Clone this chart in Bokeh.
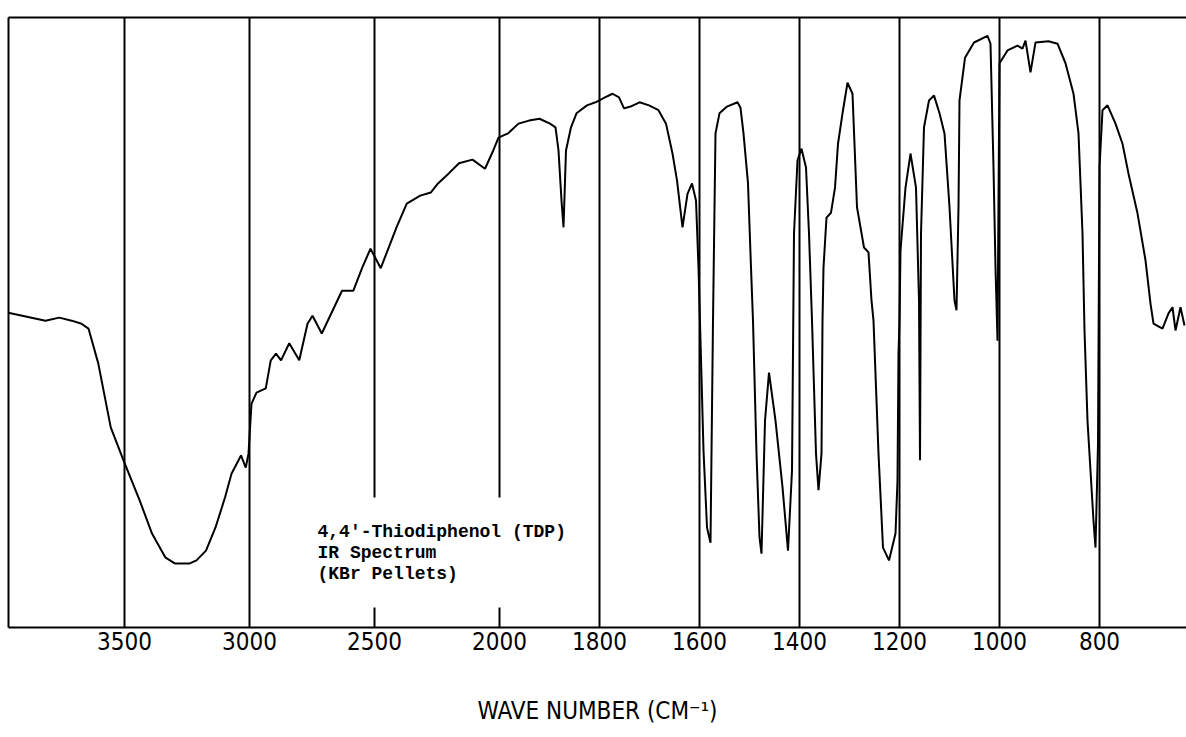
from bokeh.plotting import figure
from bokeh.models import (ColumnDataSource, FixedTicker, LinearAxis, Range1d, Label)
from bokeh.embed import file_html
from bokeh.resources import INLINE

# ---- data (wavenumber in cm-1, % transmittance) ----
WAVENUMBER = [3965, 3816, 3761, 3711, 3672, 3644, 3605, 3555, 3504, 3439, 3390, 3337, 3299,
              3239, 3212, 3174, 3136, 3098, 3072, 3034, 3015, 3004, 2992, 2972, 2935, 2915,
              2894, 2874, 2841, 2801, 2768, 2748, 2711, 2630, 2585, 2549, 2516, 2475, 2412,
              2371, 2317, 2275, 2246, 2204, 2162, 2108, 2058, 2025, 2004, 1983, 1962, 1941,
              1920, 1899, 1888, 1882, 1876, 1872, 1867, 1857, 1846, 1825, 1808, 1789, 1774,
              1761, 1751, 1738, 1720, 1701, 1682, 1667, 1654, 1645, 1634, 1624, 1615, 1607,
              1602, 1592, 1585, 1578, 1573, 1568, 1560, 1545, 1524, 1518, 1512, 1503, 1497,
              1493, 1486, 1480, 1476, 1469, 1461, 1448, 1434, 1423, 1415, 1411, 1404, 1396,
              1387, 1381, 1375, 1367, 1362, 1356, 1354, 1352, 1346, 1337, 1329, 1323, 1313,
              1304, 1294, 1285, 1271, 1262, 1256, 1252, 1242, 1233, 1221, 1208, 1204, 1202,
              1200, 1198, 1188, 1178, 1167, 1161, 1159, 1157, 1151, 1141, 1131, 1120, 1110,
              1100, 1090, 1086, 1082, 1080, 1069, 1051, 1024, 1018, 1012, 1008, 1004, 1000,
              984, 964, 954, 948, 938, 928, 902, 884, 868, 852, 842, 834, 830, 824, 818, 812,
              808, 803, 800, 794, 784, 768, 754, 742, 724, 708, 698, 692, 674, 662, 654, 648,
              638, 630]
TRANSMITTANCE = [51.6, 50.3, 50.8, 50.3, 49.8, 49.0, 43.3, 32.8, 27.4, 20.8, 15.4, 11.5, 10.5,
                 10.5, 11.0, 12.6, 16.4, 21.3, 25.2, 28.2, 26.2, 28.5, 36.7, 38.5, 39.2, 43.8,
                 44.9, 43.8, 46.6, 43.8, 49.8, 51.1, 48.2, 55.2, 55.2, 59.0, 62.1, 58.9, 65.6,
                 69.5, 70.8, 71.3, 72.8, 74.4, 76.1, 76.7, 75.2, 78.2, 80.3, 81.0, 82.6, 83.1,
                 83.4, 82.6, 82.0, 78.2, 70.0, 65.6, 78.2, 82.0, 84.3, 85.6, 86.1, 86.9, 87.5,
                 86.9, 85.1, 85.4, 86.1, 85.6, 84.8, 82.6, 77.7, 73.3, 65.6, 71.1, 72.8, 70.0,
                 59.0, 29.0, 16.4, 13.9, 50.3, 81.0, 84.3, 85.4, 86.1, 85.2, 81.0, 72.8, 59.0,
                 50.3, 28.5, 14.8, 12.1, 33.9, 41.8, 33.9, 23.0, 12.6, 25.7, 64.6, 76.6, 78.5,
                 75.4, 64.6, 50.3, 28.5, 22.5, 28.5, 50.3, 59.0, 67.2, 68.0, 72.1, 79.3, 84.8,
                 89.3, 87.5, 68.9, 62.3, 61.5, 53.6, 50.3, 28.5, 13.1, 11.0, 15.4, 24.1, 44.9,
                 50.3, 61.8, 72.1, 77.7, 72.1, 53.6, 27.4, 64.6, 82.0, 86.4, 87.2, 84.3, 81.0,
                 68.9, 53.6, 52.0, 68.9, 86.4, 93.4, 95.9, 97.0, 95.7, 75.4, 59.0, 47.0, 92.5,
                 94.6, 95.4, 94.9, 96.2, 91.0, 95.9, 96.1, 95.7, 92.5, 87.5, 81.0, 64.6, 48.7,
                 33.9, 25.7, 17.5, 13.1, 30.0, 75.4, 84.8, 85.6, 82.6, 79.3, 74.4, 67.9, 60.2,
                 53.1, 49.8, 49.0, 51.5, 52.5, 48.7, 52.5, 49.5]
TICK_LABELS = [3500, 3000, 2500, 2000, 1800, 1600, 1400, 1200, 1000, 800]
X_TITLE = "WAVE NUMBER (CM\u207b\u00b9)"
NOTE_LINES = ["4,4'-Thiodiphenol (TDP)", "IR Spectrum", "(KBr Pellets)"]


# chart-paper abscissa: linear in wavenumber, scale doubled below 2000 cm-1
def paper(wn):
    return (4000 - wn) * 0.25 if wn >= 2000 else 500 + (2000 - wn) * 0.5


src = ColumnDataSource(dict(x=[paper(w) for w in WAVENUMBER], t=TRANSMITTANCE,
                            wn=WAVENUMBER))

FRAME_W = 1178
X0 = 9
SANS = "DejaVu Sans Condensed, DejaVu Sans"
p = figure(frame_width=FRAME_W, frame_height=610, output_backend="svg",
           toolbar_location=None, x_range=Range1d(X0, X0 + FRAME_W),
           y_range=Range1d(0, 100), min_border_left=8, min_border_right=0,
           min_border_top=17, min_border_bottom=0)
p.outline_line_color = None
p.background_fill_color = "white"
p.border_fill_color = "white"

p.line("x", "t", source=src, line_color="black", line_width=2)

ticks = [paper(w) for w in TICK_LABELS]
ax = p.xaxis[0]
ax.ticker = FixedTicker(ticks=ticks)
ax.major_label_overrides = {t: str(w) for t, w in zip(ticks, TICK_LABELS)}
ax.major_tick_out = 0
ax.major_tick_in = 0
ax.minor_tick_line_color = None
ax.axis_line_width = 2
ax.axis_line_color = "black"
ax.major_label_standoff = 4
ax.major_label_text_font = SANS
ax.major_label_text_font_size = "24px"
ax.major_label_text_color = "black"
ax.axis_label = X_TITLE
ax.axis_label_text_font = SANS
ax.axis_label_text_font_style = "normal"
ax.axis_label_text_font_size = "24px"
ax.axis_label_text_color = "black"
ax.axis_label_standoff = 44

ay = p.yaxis[0]
ay.ticker = FixedTicker(ticks=[])
ay.major_tick_line_color = None
ay.minor_tick_line_color = None
ay.major_label_standoff = 0
ay.axis_line_width = 2
ay.axis_line_color = "black"

top = LinearAxis(ticker=FixedTicker(ticks=[]), major_tick_line_color=None,
                 minor_tick_line_color=None, major_label_standoff=0,
                 axis_line_width=2, axis_line_color="black")
p.add_layout(top, "above")

p.xgrid.ticker = FixedTicker(ticks=ticks)
p.xgrid.grid_line_color = "black"
p.xgrid.grid_line_width = 2
p.xgrid.grid_line_alpha = 1
p.ygrid.grid_line_color = None

note = Label(x=paper(2824), y=21.3, text="\n".join(NOTE_LINES),
             text_font="Liberation Mono", text_font_style="bold",
             text_font_size="18px", text_baseline="top", text_align="left",
             text_line_height=1.05, text_color="black",
             background_fill_color="white", background_fill_alpha=1, padding=24)
p.add_layout(note)

open("out.html", "w").write(file_html(p, INLINE))
